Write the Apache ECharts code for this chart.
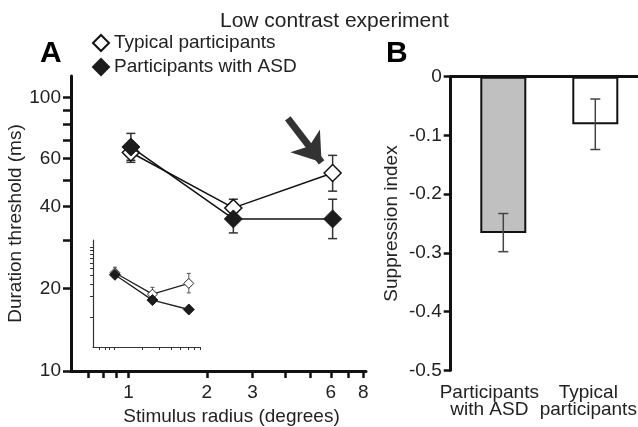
<!DOCTYPE html>
<html>
<head>
<meta charset="utf-8">
<script src="https://cdn.jsdelivr.net/npm/echarts@6/dist/echarts.min.js"></script>
<style>
  html, body { margin: 0; padding: 0; background: #fff; }
  #chart { width: 638px; height: 427px; }
</style>
</head>
<body>
<div id="chart"></div>
<script>
// panel A: duration threshold (ms) vs stimulus radius (deg), both log scaled
const radius = [1.02, 2.53, 6.1];
const typicalMs = [63, 39.5, 53];
const typicalLow = [59, 37, 45.5];
const typicalHigh = [66, 42.5, 61.5];
const asdMs = [66, 36, 36];
const asdLow = [58, 32, 30.5];
const asdHigh = [74, 39, 42.5];

// inset (unlabelled in the original)
const insetTypical = [43.4, 21.5, 30.6];
const insetTypicalLow = [39, 19.5, 22.4];
const insetTypicalHigh = [52, 26.9, 42.5];
const insetAsd = [40.6, 17.7, 13.0];
const insetAsdLow = [37, 16.2, 12.2];
const insetAsdHigh = [44, 19.3, 13.8];

// tick values
const yTicksA = [10, 20, 30, 40, 50, 60, 70, 80, 90, 100];
const yLabelsA = [10, 20, 40, 60, 100];
const xTicksA = [0.7, 0.8, 0.9, 1, 2, 3, 4, 5, 6, 7, 8];
const xLabelsA = [1, 2, 3, 6, 8];

// arrow pointing at the last typical point
const arrowFrom = [4.1, 84];
const arrowTo = [5.53, 58];

// panel B
const groups = ['Participants\nwith ASD', 'Typical\nparticipants'];
const suppression = [-0.266, -0.081];
const suppLow = [-0.298, -0.124];
const suppHigh = [-0.233, -0.038];

const lg = Math.log10;
const ink = '#111';
const txt = '#222';
const fmtLog = v => String(Math.round(Math.pow(10, v)));

// vertical error bar with caps
function errorBar(cap, width, color) {
  return function (params, api) {
    const x = api.value(0);
    const lo = api.coord([x, api.value(1)]);
    const hi = api.coord([x, api.value(2)]);
    const style = { stroke: color, lineWidth: width };
    return {
      type: 'group',
      children: [
        { type: 'line', shape: { x1: lo[0], y1: lo[1], x2: hi[0], y2: hi[1] }, style },
        { type: 'line', shape: { x1: lo[0] - cap, y1: lo[1], x2: lo[0] + cap, y2: lo[1] }, style },
        { type: 'line', shape: { x1: hi[0] - cap, y1: hi[1], x2: hi[0] + cap, y2: hi[1] }, style }
      ]
    };
  };
}

const logPts = (xs, ys) => xs.map((x, i) => [lg(x), lg(ys[i])]);
const logErr = (xs, lo, hi) => xs.map((x, i) => [lg(x), lg(lo[i]), lg(hi[i])]);

const chart = echarts.init(document.getElementById('chart'));

const option = {
  animation: false,
  textStyle: { fontFamily: 'Liberation Sans, Arial, Helvetica, sans-serif' },
  title: [
    { text: 'Low contrast experiment', left: 215, top: 6,
      textStyle: { fontSize: 21, fontWeight: 'normal', color: txt } },
    { text: 'A', left: 35, top: 34, textStyle: { fontSize: 30, fontWeight: 'bold', color: '#000' } },
    { text: 'B', left: 381, top: 34, textStyle: { fontSize: 30, fontWeight: 'bold', color: '#000' } }
  ],
  legend: {
    data: ['Typical participants', 'Participants with ASD'],
    orient: 'vertical',
    left: 87,
    top: 28.5,
    itemWidth: 16,
    itemHeight: 16,
    itemGap: 5,
    icon: 'diamond',
    selectedMode: false,
    textStyle: { fontSize: 19, color: txt }
  },
  grid: [
    { left: 71, top: 76, width: 295, height: 295, outerBoundsMode: 'none' },
    { left: 93, top: 240, width: 107, height: 107, outerBoundsMode: 'none' },
    { left: 457.3, top: 76.7, width: 184, height: 293.6, outerBoundsMode: 'none' },
    { left: 450.7, top: 76.7, right: 0, height: 293.6, outerBoundsMode: 'none' }
  ],
  xAxis: [
    {
      gridIndex: 0, type: 'value', min: lg(0.6), max: lg(8.2),
      axisLine: { onZero: false, lineStyle: { color: ink, width: 3 } },
      axisTick: { customValues: xTicksA.map(lg), length: 7, lineStyle: { color: ink, width: 2.5 } },
      axisLabel: { customValues: xLabelsA.map(lg), formatter: fmtLog, margin: 12, fontSize: 19, color: txt },
      splitLine: { show: false },
      name: 'Stimulus radius (degrees)', nameLocation: 'middle', nameGap: 31,
      nameTextStyle: { fontSize: 19, color: txt, padding: [0, 0, 0, 26] }
    },
    {
      gridIndex: 1, type: 'value', min: lg(0.6), max: lg(8),
      axisLine: { onZero: false, lineStyle: { color: '#333', width: 1.2 } },
      axisTick: { customValues: xTicksA.map(lg), length: 3, lineStyle: { color: '#333', width: 1 } },
      axisLabel: { show: false },
      splitLine: { show: false }
    },
    {
      gridIndex: 2, type: 'category', data: groups,
      axisLine: { show: false },
      axisTick: { show: false },
      axisLabel: {
        interval: 0, margin: 14, color: txt,
        formatter: (v, i) => v.split('\n').map(s => '{' + (i === 0 ? 'a' : 'b') + '|' + s + '}').join('\n'),
        rich: {
          a: { fontSize: 19, lineHeight: 17, color: txt, padding: [0, 28, 0, 0] },
          b: { fontSize: 19, lineHeight: 17, color: txt, padding: [0, 14, 0, 0] }
        }
      },
      splitLine: { show: false }
    },
    {
      gridIndex: 3, type: 'value', position: 'top', min: 0, max: 1,
      axisLine: { onZero: false, lineStyle: { color: ink, width: 3 } },
      axisTick: { show: false }, axisLabel: { show: false }, splitLine: { show: false }
    }
  ],
  yAxis: [
    {
      gridIndex: 0, type: 'value', min: 1, max: lg(120),
      axisLine: { onZero: false, lineStyle: { color: ink, width: 3 } },
      axisTick: { customValues: yTicksA.map(lg), length: 8, lineStyle: { color: ink, width: 2.5 } },
      axisLabel: { customValues: yLabelsA.map(lg), formatter: fmtLog, margin: 10, fontSize: 19, color: txt },
      splitLine: { show: false },
      name: 'Duration threshold (ms)', nameLocation: 'middle', nameGap: 41,
      nameTextStyle: { fontSize: 19, color: txt }
    },
    {
      gridIndex: 1, type: 'value', min: lg(3.8), max: lg(127),
      axisLine: { onZero: false, lineStyle: { color: '#333', width: 1.2 } },
      axisTick: { customValues: yTicksA.map(lg), length: 3, lineStyle: { color: '#333', width: 1 } },
      axisLabel: { show: false },
      splitLine: { show: false }
    },
    {
      gridIndex: 2, type: 'value', min: -0.5, max: 0, interval: 0.1, offset: 6.6,
      axisLine: { show: true, onZero: false, lineStyle: { color: ink, width: 3 } },
      axisTick: { show: true, length: 7, lineStyle: { color: ink, width: 2.5 } },
      axisLabel: { margin: 9, fontSize: 19, color: txt },
      splitLine: { show: false },
      name: 'Suppression index', nameLocation: 'middle', nameGap: 49,
      nameTextStyle: { fontSize: 19, color: txt }
    },
    { gridIndex: 3, type: 'value', min: -0.5, max: 0, show: false }
  ],
  series: [
    {
      type: 'custom', xAxisIndex: 0, yAxisIndex: 0, z: 2, silent: true,
      renderItem: errorBar(4.5, 1.5, '#333'),
      encode: { x: 0, y: [1, 2] },
      data: logErr(radius, typicalLow, typicalHigh)
    },
    {
      type: 'custom', xAxisIndex: 0, yAxisIndex: 0, z: 2, silent: true,
      renderItem: errorBar(4.5, 1.5, '#333'),
      encode: { x: 0, y: [1, 2] },
      data: logErr(radius, asdLow, asdHigh)
    },
    {
      name: 'Typical participants', type: 'line', xAxisIndex: 0, yAxisIndex: 0, z: 3,
      data: logPts(radius, typicalMs),
      symbol: 'diamond', symbolSize: 17,
      itemStyle: { color: '#fff', borderColor: ink, borderWidth: 1.5 },
      lineStyle: { color: ink, width: 1.5 },
      emphasis: { disabled: true }
    },
    {
      name: 'Participants with ASD', type: 'line', xAxisIndex: 0, yAxisIndex: 0, z: 4,
      data: logPts(radius, asdMs),
      symbol: 'diamond', symbolSize: 18,
      itemStyle: { color: '#1c1c1c', borderColor: '#1c1c1c', borderWidth: 1 },
      lineStyle: { color: ink, width: 1.5 },
      emphasis: { disabled: true },
      markLine: {
        silent: true,
        symbol: ['none', 'arrow'],
        symbolSize: [28, 27],
        label: { show: false },
        lineStyle: { color: '#333', width: 7, type: 'solid' },
        emphasis: { disabled: true },
        data: [[{ coord: [lg(arrowFrom[0]), lg(arrowFrom[1])] }, { coord: [lg(arrowTo[0]), lg(arrowTo[1])] }]]
      }
    },
    {
      type: 'custom', xAxisIndex: 1, yAxisIndex: 1, z: 2, silent: true,
      renderItem: errorBar(2, 1, '#555'),
      encode: { x: 0, y: [1, 2] },
      data: logErr(radius, insetTypicalLow, insetTypicalHigh)
    },
    {
      type: 'custom', xAxisIndex: 1, yAxisIndex: 1, z: 2, silent: true,
      renderItem: errorBar(2, 1, '#555'),
      encode: { x: 0, y: [1, 2] },
      data: logErr(radius, insetAsdLow, insetAsdHigh)
    },
    {
      name: 'inset typical', type: 'line', xAxisIndex: 1, yAxisIndex: 1, z: 3,
      data: logPts(radius, insetTypical),
      symbol: 'diamond', symbolSize: 10,
      itemStyle: { color: '#fff', borderColor: '#222', borderWidth: 1 },
      lineStyle: { color: '#222', width: 1.3 },
      emphasis: { disabled: true }
    },
    {
      name: 'inset asd', type: 'line', xAxisIndex: 1, yAxisIndex: 1, z: 4,
      data: logPts(radius, insetAsd),
      symbol: 'diamond', symbolSize: 11,
      itemStyle: { color: '#1c1c1c', borderColor: '#1c1c1c', borderWidth: 1 },
      lineStyle: { color: '#222', width: 1.3 },
      emphasis: { disabled: true }
    },
    {
      name: 'suppression', type: 'bar', xAxisIndex: 2, yAxisIndex: 2, z: 2,
      data: suppression,
      barWidth: 46,
      itemStyle: {
        color: p => (p.dataIndex === 0 ? '#c0c0c0' : '#fff'),
        borderColor: ink, borderWidth: 2
      },
      emphasis: { disabled: true }
    },
    {
      type: 'custom', xAxisIndex: 2, yAxisIndex: 2, z: 3, silent: true,
      renderItem: errorBar(5, 1.5, '#444'),
      encode: { x: 0, y: [1, 2] },
      data: suppression.map((_, i) => [i, suppLow[i], suppHigh[i]])
    }
  ]
};

chart.setOption(option);
</script>
</body>
</html>
